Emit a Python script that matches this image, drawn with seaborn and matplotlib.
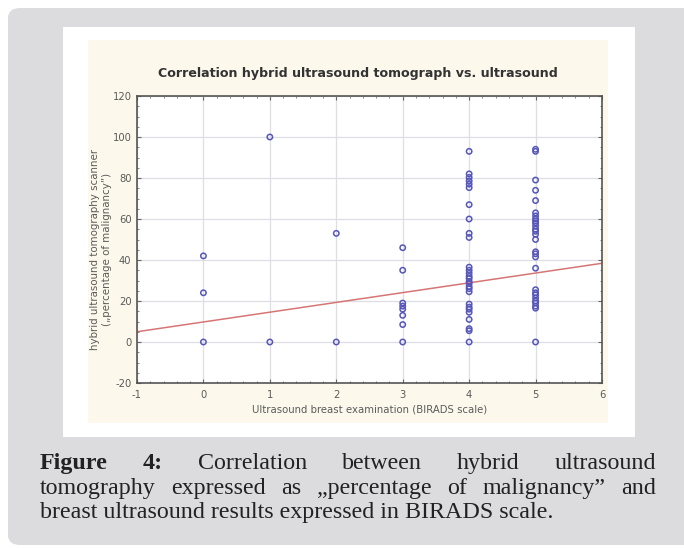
import matplotlib
matplotlib.use("Agg")
import matplotlib.pyplot as plt
from matplotlib.patches import FancyBboxPatch, Rectangle
from matplotlib.ticker import AutoMinorLocator
import pandas as pd
import seaborn as sns

# values (BIRADS class -> % malignancy from hybrid scanner)
birads_0 = [42, 24, 0]
birads_1 = [100, 0]
birads_2 = [53, 0]
birads_3 = [46, 35, 19, 17.5, 16, 13, 8.5, 0]
birads_4 = [93, 82, 80.3, 78.6, 77, 75.3, 67, 60, 53, 51, 36.5, 35, 33.5, 32, 31,
            29.5, 28.5, 27, 26, 24.5, 18.5, 17, 16, 14.5, 11, 6.5, 5.5, 0]
birads_5 = [94, 93, 79, 74, 69, 63, 61.5, 60, 59, 58, 56.5, 55, 54, 52.5, 50, 44,
            43, 41.5, 36, 25.5, 24, 23, 21.5, 20, 19, 17.5, 16.5, 0]

# fitted line as drawn in the reference
trend_x = [-1, 6]
trend_y = [5.0, 38.4]

x_ticks = [-1, 0, 1, 2, 3, 4, 5, 6]
y_ticks = [-20, 0, 20, 40, 60, 80, 100, 120]

title = "Correlation hybrid ultrasound tomograph vs. ultrasound"
x_label = "Ultrasound breast examination (BIRADS scale)"
y_label = "hybrid ultrasound tomography scanner\n(\u201epercentage of malignancy\u201d)"

caption_1 = [("Figure", True), ("4:", True), ("Correlation", False), ("between", False),
             ("hybrid", False), ("ultrasound", False)]
caption_2 = ["tomography", "expressed", "as", "\u201epercentage", "of", "malignancy\u201d", "and"]
caption_3 = "breast ultrasound results expressed in BIRADS scale."

W, H = 684, 548


def fx(px):
    return px / W


def fy(py):
    return 1 - py / H


groups = [birads_0, birads_1, birads_2, birads_3, birads_4, birads_5]
df = pd.DataFrame({
    "birads": [i for i, g in enumerate(groups) for _ in g],
    "score": [v for g in groups for v in g],
})

sns.set_style("white")
plt.rcParams["font.family"] = ["DejaVu Sans"]
plt.rcParams["axes.unicode_minus"] = False

fig = plt.figure(figsize=(W / 100, H / 100), dpi=100)
fig.patch.set_facecolor("white")

# framing boxes: grey card, white plate, cream chart panel
fig.patches.append(FancyBboxPatch((fx(8), fy(545)), fx(720) - fx(8), fy(8) - fy(545),
                                  boxstyle="round,pad=0,rounding_size=0.018",
                                  transform=fig.transFigure, facecolor="#dcdcdf",
                                  edgecolor="none", zorder=-3))
fig.patches.append(Rectangle((fx(63), fy(437)), fx(635) - fx(63), fy(27) - fy(437),
                             transform=fig.transFigure, facecolor="white",
                             edgecolor="none", zorder=-2))
fig.patches.append(Rectangle((fx(88), fy(423)), fx(608) - fx(88), fy(40) - fy(423),
                             transform=fig.transFigure, facecolor="#fcf9ec",
                             edgecolor="none", zorder=-1))

ax = fig.add_axes([fx(137), fy(383), fx(602) - fx(137), fy(96) - fy(383)])
ax.set_zorder(1)
ax.set_facecolor("white")
ax.set_xlim(-1, 6)
ax.set_ylim(-20, 120)

sns.lineplot(x=trend_x, y=trend_y, color="#d77575", linewidth=1.1, ax=ax, zorder=2)
sns.scatterplot(data=df, x="birads", y="score", ax=ax, marker="o", s=15,
                facecolor="none", edgecolor="#5656bb", linewidth=1.1, zorder=3)

ax.set_xticks(x_ticks)
ax.set_yticks(y_ticks)
ax.xaxis.set_minor_locator(AutoMinorLocator(5))
ax.yaxis.set_minor_locator(AutoMinorLocator(4))
ax.grid(True, which="major", color="#dedee6", linewidth=0.9)
ax.tick_params(which="both", direction="in", top=True, right=True, bottom=True, left=True,
               color="#666666", labelsize=7.2, labelcolor="#5a5a5a")
ax.tick_params(which="major", length=3, width=0.8)
ax.tick_params(which="minor", length=1.5, width=0.6)
ax.tick_params(axis="y", pad=4)
ax.tick_params(axis="x", pad=5)
for sp in ax.spines.values():
    sp.set_visible(True)
    sp.set_color("#555555")
    sp.set_linewidth(1.2)

ax.set_xlabel(x_label, fontsize=7.3, color="#5a5a5a", labelpad=3)
ax.set_ylabel(y_label, fontsize=7.4, color="#5a5a5a", linespacing=1.25)
ax.yaxis.set_label_coords(-0.053, 0.465)

fig.text(fx(358), fy(74), title, ha="center", va="center", fontsize=9.1,
         fontweight="bold", color="#333333")

# justified caption below the chart
renderer = fig.canvas.get_renderer()
cap_font = dict(family="Liberation Serif", fontsize=17.3, color="#222222", va="baseline")
left_px, right_px = 40, 656


def justified_line(words, base_py):
    texts = [fig.text(0, fy(base_py), w, fontweight="bold" if b else "normal", **cap_font)
             for w, b in words]
    widths = [t.get_window_extent(renderer).width for t in texts]
    gap = (right_px - left_px - sum(widths)) / (len(texts) - 1)
    pos = left_px
    for t, w in zip(texts, widths):
        t.set_x(fx(pos))
        pos += w + gap


justified_line(caption_1, 469)
justified_line([(w, False) for w in caption_2], 494)
fig.text(fx(left_px), fy(518), caption_3, **cap_font)

fig.savefig("out.png", dpi=100, facecolor=fig.get_facecolor())
